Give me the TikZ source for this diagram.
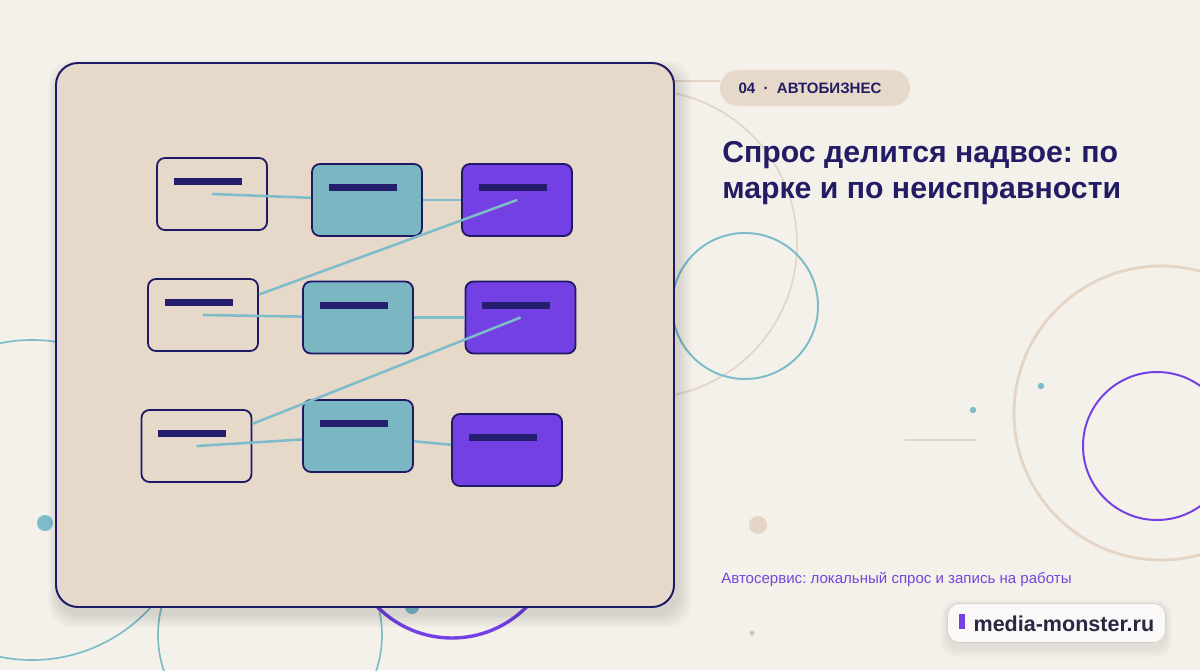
\documentclass[tikz,border=0pt]{standalone}
\usepackage{fontspec}
\setmainfont{Liberation Sans}
\frenchspacing
\usetikzlibrary{positioning}
\definecolor{bgcream}{HTML}{F4F0EA}
\definecolor{panelsand}{HTML}{E7D9CA}
\definecolor{inknavy}{HTML}{1F1A66}
\definecolor{barnavy}{HTML}{251D6E}
\definecolor{tealfill}{HTML}{7AB7C3}
\definecolor{tealline}{HTML}{7DBDCA}
\definecolor{violet}{HTML}{7340E4}
\definecolor{sandline}{HTML}{E4D5C5}
\definecolor{titleink}{HTML}{221C64}
\definecolor{subviolet}{HTML}{7446DD}
\definecolor{badgefill}{HTML}{FBF9F7}
\definecolor{badgeedge}{HTML}{D8D2CD}
\definecolor{badgeink}{HTML}{2B2644}
\tikzset{
  card/.style = {rectangle, rounded corners=0.2cm, draw=inknavy, line width=1.3pt,
    minimum width=2.75cm, minimum height=1.8cm, inner sep=0pt,
    path picture={\fill[barnavy, draw=none, sharp corners]
      ([shift={(0.42cm,-0.5cm)}]path picture bounding box.north west)
      rectangle +(1.7cm,-0.175cm);}},
  hollowcard/.style = {card},
  tealcard/.style = {card, fill=tealfill},
  violetcard/.style = {card, fill=violet},
  link/.style = {draw=tealline, line width=1.8pt},
  pill/.style = {fill=panelsand, rounded corners=0.45cm, minimum width=4.75cm,
    minimum height=0.9cm, text=titleink, font=\bfseries\fontsize{10.7}{12}\selectfont},
  headline/.style = {font=\bfseries\fontsize{21.5}{26}\selectfont, text=titleink, inner sep=0pt},
  caption/.style = {font=\fontsize{10.7}{13}\selectfont, text=subviolet, inner sep=0pt},
  badge/.style = {fill=badgefill, draw=badgeedge, line width=0.6pt, rounded corners=0.3cm,
    minimum width=5.45cm, minimum height=0.98cm, text=badgeink,
    font=\bfseries\fontsize{15.3}{18}\selectfont},
}
\begin{document}
\begin{tikzpicture}[x=0.025cm, y=-0.025cm]
\path[use as bounding box, fill=bgcream] (0,0) rectangle (1200,670);
\clip (0,0) rectangle (1200,670);

% rings and dots in the back
\draw[sandline, line width=1.2pt] (643,244) circle (154);
\draw[sandline, line width=1pt] (600,81) -- (720,81);
\draw[tealline, line width=1.4pt] (745,306) circle (73);
\draw[sandline, line width=2pt] (1161,413) circle (147);
\draw[violet, line width=1.4pt] (1157,446) circle (74);
\draw[tealline, line width=1.2pt] (32,500) circle (160);
\draw[tealline, line width=1.2pt] (270,635) circle (112);
\draw[violet, line width=2.4pt] (452,533) circle (105);
\fill[tealline] (45,523) circle (8);
\fill[tealline] (412,607) circle (7);
\fill[tealline] (1041,386) circle (3.2);
\fill[tealline] (973,410) circle (3.2);
\fill[sandline] (758,525) circle (9);
\fill[black!22] (752,633) circle (2.5);
\draw[sandline, line width=0.8pt] (905,440) -- (977,440);

% panel with soft shadow
\foreach \s in {1,...,10}
  \fill[black, opacity=0.012, rounded corners=0.6cm] (58-\s,70-\s) rectangle (678+1.4*\s,614+1.4*\s);
\draw[fill=panelsand, draw=inknavy, line width=1.4pt, rounded corners=0.55cm] (56,63) rectangle (674,607);

% cards
\node[hollowcard] (src1) at (212,194) {};
\node[tealcard] (mid1) at (367,200) {};
\node[violetcard] (dst1) at (517,200) {};
\node[hollowcard] (src2) at (203,315) {};
\node[tealcard] (mid2) at (358,317.5) {};
\node[violetcard] (dst2) at (520.5,317.5) {};
\node[hollowcard] (src3) at (196.5,446) {};
\node[tealcard] (mid3) at (358,436) {};
\node[violetcard] (dst3) at (507,450) {};

% links
\draw[link] (src1.center) -- (mid1);
\draw[link] (mid1) -- (dst1);
\draw[link] (dst1.center) -- (src2);
\draw[link] (src2.center) -- (mid2);
\draw[link] (mid2) -- (dst2);
\draw[link] (dst2.center) -- (src3);
\draw[link] (src3.center) -- (mid3);
\draw[link] (mid3) -- (dst3);

% texts on the right
\node[pill] (tag) at (815,88) {04~~·~~АВТОБИЗНЕС\kern0.25cm};
\node[headline, anchor=base west] (head1) at (722,162) {Спрос делится надвое: по};
\node[headline, anchor=base west] (head2) at (722,198) {марке и по неисправности};
\node[caption, anchor=base west] (sub) at (721,583) {Автосервис: локальный спрос и запись на работы};

% site badge
\foreach \s in {1,...,6}
  \fill[black, opacity=0.012, rounded corners=0.35cm] (947-\s,606-\s) rectangle (1166+\s,648+1.6*\s);
\node[badge] (site) at (1056.5,623) {\textcolor{violet}{\rule[0.05cm]{0.15cm}{0.375cm}}\hspace{0.22cm}media-monster.ru};
\end{tikzpicture}
\end{document}
